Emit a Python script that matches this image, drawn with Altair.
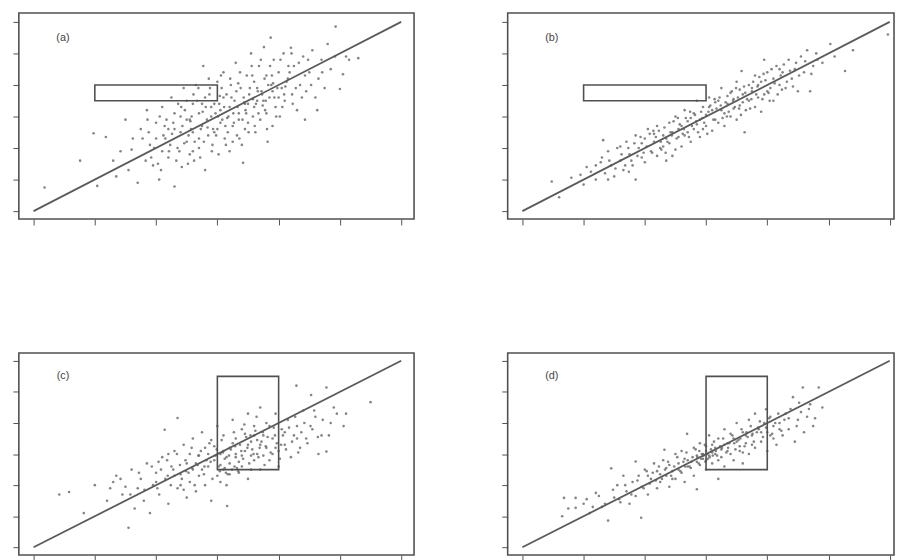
import altair as alt
import pandas as pd

TICKS = [0, 1, 2, 3, 4, 5, 6]
DIAG = [0, 6]
LABELS = ["(a)", "(b)", "(c)", "(d)"]
LABEL_POS = [0.48, 5.5]
RECT_WIDE = [1.0, 3.0, 3.5, 4.0]   # x, x2, y, y2
RECT_TALL = [3.0, 4.0, 2.5, 5.5]

A_X = [0.18, 0.76, 1.04, 0.98, 1.18, 1.35, 1.5, 1.3, 1.6, 1.55, 1.7, 1.75, 1.85, 1.9, 1.95, 2.0, 2.05, 2.1, 2.15, 2.2,
       2.25, 2.3, 2.3, 2.35, 2.4, 2.42, 2.45, 2.5, 2.5, 2.55, 2.6, 2.6, 2.62, 2.65, 2.7, 2.7, 2.75, 2.77, 2.8, 2.8,
       2.85, 2.88, 2.9, 2.92, 2.95, 3.0, 3.0, 3.02, 3.05, 3.08, 3.1, 3.12, 3.15, 3.18, 3.2, 3.22, 3.25, 3.28, 3.3, 3.32,
       3.35, 3.38, 3.4, 3.42, 3.45, 3.48, 3.5, 3.52, 3.55, 3.58, 3.6, 3.62, 3.65, 3.68, 3.7, 3.72, 3.76, 3.78, 3.8, 3.82,
       3.85, 3.87, 3.88, 3.9, 3.92, 3.95, 4.0, 4.02, 4.05, 4.08, 4.1, 4.15, 4.2, 4.22, 4.25, 4.3, 4.35, 4.4, 4.43, 4.45,
       4.5, 4.55, 4.6, 4.63, 4.65, 4.7, 4.75, 4.8, 4.85, 4.93, 5.0, 5.05, 5.1, 5.15, 5.3, 2.0, 2.2, 2.4, 2.55, 2.7,
       2.9, 3.05, 3.2, 3.35, 3.5, 3.65, 3.75, 3.9, 2.1, 2.3, 2.5, 2.6, 2.75, 2.95, 3.1, 3.25, 3.45, 3.6, 3.8, 4.0]
A_Y = [0.75, 1.6, 0.8, 2.47, 2.35, 1.1, 2.9, 1.6, 1.95, 1.3, 0.9, 2.6, 3.2, 2.1, 1.45, 2.8, 1.0, 3.3, 2.3, 1.7,
       3.6, 0.78, 2.6, 2.0, 3.0, 1.4, 3.9, 2.2, 2.9, 1.8, 3.4, 2.5, 1.6, 4.0, 3.1, 2.0, 2.7, 4.6, 3.6, 1.3,
       2.4, 3.9, 3.0, 2.1, 3.4, 2.6, 4.1, 1.8, 3.2, 2.9, 4.4, 2.3, 3.7, 3.0, 1.9, 4.0, 2.7, 3.5, 4.7, 2.4,
       3.1, 3.9, 2.1, 1.53, 3.4, 4.3, 2.8, 3.7, 5.0, 3.0, 4.1, 2.5, 3.5, 4.6, 2.9, 3.8, 5.2, 3.2, 4.3, 2.2,
       3.6, 5.5, 4.0, 2.7, 4.8, 3.3, 4.4, 3.0, 3.9, 5.0, 3.5, 4.2, 5.18, 3.7, 4.6, 3.2, 4.0, 4.9, 2.9, 3.8,
       4.4, 5.1, 3.6, 3.2, 4.2, 4.8, 3.9, 5.3, 4.5, 5.85, 3.87, 4.34, 4.9, 4.8, 4.85, 2.3, 2.6, 2.5, 2.9, 2.3,
       3.3, 2.8, 3.3, 2.9, 3.4, 3.9, 3.5, 3.8, 1.9, 3.1, 3.5, 1.9, 3.4, 2.5, 3.6, 2.2, 2.6, 3.3, 3.1, 3.6]
A_X_MORE = [1.83, 1.78, 1.86, 1.92, 1.88, 2.03, 1.97, 2.06, 2.12, 2.08,
            2.14, 2.23, 2.17, 2.21, 2.33, 2.28, 2.36, 2.43, 2.38, 2.41,
            2.53, 2.47, 2.52, 2.57, 2.63, 2.58, 2.61, 2.73, 2.67, 2.72,
            2.69, 2.83, 2.78, 2.81, 2.86, 2.93, 2.87, 2.91, 2.97, 3.03,
            2.98, 3.01, 3.06, 3.13, 3.07, 3.11, 3.14, 3.23, 3.17, 3.21,
            3.26, 3.33, 3.27, 3.31, 3.36, 3.43, 3.37, 3.41, 3.46, 3.53,
            3.47, 3.51, 3.56, 3.63, 3.57, 3.61, 3.66, 3.73, 3.67, 3.71,
            3.77, 3.83, 3.79, 3.81, 3.86, 3.93, 3.89, 3.96, 4.03, 3.98,
            4.06, 4.13, 4.09, 4.16, 4.23, 4.18, 4.21, 4.33, 4.28, 4.43,
            4.38, 4.53, 4.48, 4.71, 4.92, 1.62, 1.42, 2.26, 2.56, 2.84,
            3.16, 3.44, 3.74, 3.04, 2.76, 3.34, 3.58, 2.46, 3.91, 4.11]
A_Y_MORE = [1.6, 2.3, 2.9, 1.7, 2.5, 1.5, 2.0, 3.0, 2.4, 1.3,
            2.7, 2.1, 2.9, 1.9, 1.6, 2.8, 3.4, 2.7, 1.9, 3.3,
            2.4, 3.2, 1.5, 2.6, 2.2, 3.0, 3.7, 2.6, 3.5, 1.7,
            3.9, 2.9, 2.2, 3.3, 4.2, 2.6, 3.7, 1.9, 3.1, 3.4,
            2.4, 3.0, 4.3, 2.7, 3.9, 3.3, 2.1, 3.6, 2.5, 4.2,
            3.1, 3.3, 2.8, 3.8, 2.3, 3.6, 4.4, 2.9, 3.2, 3.9,
            3.1, 2.5, 4.6, 3.4, 4.3, 2.7, 3.8, 3.7, 3.1, 4.8,
            4.2, 4.0, 3.5, 2.6, 4.6, 3.6, 4.3, 3.0, 4.8, 3.9,
            3.3, 4.1, 3.7, 4.6, 3.4, 4.4, 5.0, 4.7, 3.9, 4.3,
            3.6, 4.0, 4.8, 4.4, 4.9, 2.3, 1.9, 2.45, 2.85, 2.65,
            2.95, 3.45, 3.35, 3.65, 3.15, 4.05, 3.55, 2.15, 4.05, 3.95]

B_X = [0.48, 0.6, 0.8, 1.0, 1.05, 1.2, 1.3, 1.32, 1.35, 1.4, 1.45, 1.5, 1.55, 1.6, 1.65, 1.7, 1.75, 1.8, 1.85, 1.85,
       1.9, 1.95, 2.0, 2.0, 2.05, 2.1, 2.15, 2.2, 2.2, 2.25, 2.3, 2.35, 2.4, 2.4, 2.45, 2.5, 2.5, 2.55, 2.6, 2.6,
       2.65, 2.7, 2.7, 2.75, 2.8, 2.8, 2.85, 2.9, 2.9, 2.95, 3.0, 3.0, 3.05, 3.1, 3.1, 3.15, 3.2, 3.2, 3.25, 3.3,
       3.3, 3.35, 3.4, 3.4, 3.45, 3.5, 3.5, 3.55, 3.58, 3.6, 3.63, 3.65, 3.7, 3.7, 3.75, 3.8, 3.8, 3.85, 3.9, 3.95,
       3.95, 4.0, 4.05, 4.1, 4.1, 4.15, 4.2, 4.25, 4.3, 4.35, 4.4, 4.45, 4.5, 4.55, 4.6, 4.65, 4.7, 4.75, 4.8, 4.9,
       5.03, 5.1, 5.27, 5.4, 5.97, 2.3, 2.55, 2.75, 2.95, 3.05, 3.25, 3.35, 3.45, 3.6, 3.75, 1.95, 2.15, 2.35, 2.65, 2.85,
       3.15, 3.55, 3.85, 4.0, 4.2, 1.6, 1.2, 1.4, 2.45, 3.9]
B_Y = [0.94, 0.44, 1.06, 0.84, 1.4, 1.0, 1.7, 2.25, 1.2, 1.9, 1.45, 1.1, 2.0, 1.6, 1.3, 2.2, 1.8, 1.45, 1.0, 2.4,
       2.0, 1.7, 2.3, 1.55, 2.6, 1.9, 2.2, 1.75, 2.7, 2.0, 2.4, 1.6, 2.8, 2.15, 2.5, 1.95, 3.0, 2.35, 2.7, 2.05,
       3.2, 2.5, 2.85, 2.2, 3.1, 2.6, 3.5, 2.35, 2.9, 3.3, 2.7, 3.05, 3.6, 2.55, 3.2, 2.9, 3.5, 2.8, 3.9, 3.1,
       2.7, 3.4, 3.75, 3.0, 3.55, 2.9, 4.1, 3.35, 4.44, 3.7, 2.5, 3.2, 4.0, 3.5, 3.8, 4.3, 3.3, 3.6, 4.1, 4.8,
       3.7, 4.4, 3.9, 4.2, 3.5, 4.6, 4.0, 4.4, 3.9, 4.8, 4.2, 4.5, 3.8, 4.9, 4.4, 5.1, 3.8, 4.6, 5.0, 4.7,
       5.3, 4.9, 4.44, 5.1, 5.6, 2.05, 2.6, 2.95, 2.6, 3.3, 3.2, 3.65, 3.25, 3.45, 3.9, 2.15, 2.45, 2.3, 2.4, 2.75,
       3.45, 3.85, 4.0, 3.8, 4.5, 2.05, 1.45, 1.0, 1.75, 3.15]
B_X_MORE = [1.62, 1.68, 1.73, 1.78, 1.83, 1.88, 1.93, 1.98, 2.03, 2.08,
            2.12, 2.18, 2.23, 2.27, 2.32, 2.37, 2.42, 2.47, 2.52, 2.57,
            2.62, 2.67, 2.72, 2.77, 2.82, 2.87, 2.92, 2.97, 3.02, 3.07,
            3.12, 3.17, 3.22, 3.27, 3.32, 3.37, 3.42, 3.47, 3.52, 3.57,
            3.62, 3.67, 3.72, 3.77, 3.82, 3.87, 3.92, 3.97, 4.02, 4.07,
            4.12, 4.17, 4.22, 4.27, 4.32, 4.37, 4.42, 4.47, 4.52, 4.62,
            4.72, 4.82, 1.42, 1.52, 1.28, 1.12, 0.95, 2.26, 2.64, 2.94,
            3.04, 3.24, 3.44, 3.64, 3.84, 2.44, 2.84, 3.34, 3.54, 3.74,
            2.14, 2.54, 2.74, 3.14, 3.49, 3.94, 4.04, 4.24, 1.74, 2.34]
B_Y_MORE = [1.8, 1.45, 2.0, 1.6, 2.15, 1.75, 2.35, 1.85, 2.05, 2.45,
            1.85, 2.35, 2.55, 1.95, 2.65, 2.2, 2.5, 2.85, 2.3, 2.75,
            2.45, 2.95, 2.35, 2.7, 3.05, 2.5, 3.15, 2.8, 2.45, 3.35,
            2.9, 3.25, 3.6, 2.95, 3.45, 3.15, 3.8, 3.3, 3.6, 3.05,
            3.95, 3.55, 3.25, 4.1, 3.7, 4.25, 3.55, 4.15, 3.75, 4.5,
            4.05, 3.7, 4.3, 4.65, 4.1, 4.45, 3.95, 4.7, 4.3, 4.75,
            4.35, 4.8, 1.6, 1.35, 1.55, 1.25, 1.15, 2.2, 2.6, 2.95,
            3.15, 3.35, 3.5, 3.75, 3.95, 2.4, 2.85, 3.0, 3.25, 3.55,
            2.55, 2.95, 3.15, 3.55, 3.9, 4.35, 3.5, 3.85, 1.25, 1.85]

C_X = [0.42, 0.58, 0.82, 1.0, 1.2, 1.3, 1.35, 1.45, 1.55, 1.6, 1.65, 1.7, 1.75, 1.8, 1.85, 1.9, 1.95, 2.0, 2.05, 2.1,
       2.14, 2.15, 2.2, 2.25, 2.3, 2.35, 2.35, 2.4, 2.45, 2.5, 2.5, 2.55, 2.6, 2.6, 2.65, 2.7, 2.7, 2.75, 2.8, 2.8,
       2.85, 2.9, 2.9, 2.95, 3.0, 3.0, 3.05, 3.1, 3.1, 3.15, 3.16, 3.2, 3.2, 3.25, 3.3, 3.3, 3.35, 3.4, 3.4, 3.45,
       3.5, 3.5, 3.55, 3.6, 3.6, 3.65, 3.7, 3.7, 3.75, 3.8, 3.8, 3.85, 3.9, 3.95, 4.0, 4.0, 4.05, 4.1, 4.15, 4.2,
       4.25, 4.29, 4.3, 4.35, 4.4, 4.45, 4.53, 4.55, 4.6, 4.65, 4.7, 4.78, 4.78, 4.85, 4.9, 5.06, 5.1, 5.5, 2.2, 2.4,
       2.55, 2.75, 2.95, 3.05, 3.25, 3.35, 3.45, 3.55, 3.65, 3.75, 3.85, 3.95, 3.1, 3.3, 3.5, 3.7, 1.5, 2.0, 2.3, 2.65,
       2.85, 3.15, 3.4, 3.6, 3.9, 4.1, 4.3, 2.45, 3.05, 3.55]
C_Y = [1.7, 1.78, 1.1, 2.0, 1.5, 2.1, 2.3, 1.7, 0.63, 2.5, 1.25, 1.9, 2.2, 1.5, 2.7, 1.1, 2.0, 2.4, 1.7, 2.9,
       3.78, 2.2, 1.4, 2.6, 3.1, 4.16, 1.9, 2.35, 3.3, 2.7, 1.6, 2.1, 3.5, 2.5, 1.8, 2.95, 2.3, 3.7, 2.0, 3.2,
       2.6, 1.5, 3.45, 2.8, 2.3, 3.9, 3.0, 2.5, 3.6, 2.0, 1.33, 3.2, 2.7, 4.1, 2.9, 3.5, 2.4, 3.8, 2.6, 3.1,
       4.3, 2.2, 3.4, 2.8, 3.9, 3.0, 4.5, 2.5, 3.6, 3.2, 4.0, 2.8, 3.5, 4.3, 3.1, 2.6, 3.8, 3.3, 4.1, 2.9,
       3.6, 5.2, 3.9, 3.2, 4.4, 3.5, 4.9, 3.8, 4.2, 3.0, 3.6, 5.14, 3.08, 4.0, 4.5, 3.9, 4.3, 4.67, 3.0, 2.0,
       3.0, 2.5, 3.25, 2.65, 3.35, 2.75, 3.65, 2.95, 3.45, 2.95, 3.9, 3.2, 3.1, 3.0, 3.3, 3.3, 1.95, 2.1, 2.3, 2.7,
       3.0, 2.9, 2.95, 3.6, 3.0, 3.7, 3.5, 1.85, 2.1, 2.5]
C_X_MORE = [1.25, 1.42, 1.58, 1.72, 1.81, 1.93, 2.02, 2.08, 2.18, 2.24,
            2.28, 2.34, 2.42, 2.48, 2.53, 2.58, 2.63, 2.68, 2.73, 2.78,
            2.82, 2.87, 2.92, 2.97, 3.02, 3.07, 3.12, 3.17, 3.22, 3.27,
            3.32, 3.37, 3.42, 3.47, 3.52, 3.57, 3.62, 3.67, 3.72, 3.77,
            3.82, 3.87, 3.92, 3.97, 4.02, 4.07, 4.12, 4.17, 4.22, 4.27,
            4.32, 4.37, 4.42, 4.47, 4.52, 4.58, 4.64, 4.72, 4.82, 4.95,
            3.04, 3.14, 3.24, 3.34, 3.2, 3.12, 3.28, 3.09, 3.19, 3.29,
            3.39, 3.49, 3.59, 3.69, 3.79, 2.59, 2.69, 2.79, 2.89, 2.99,
            2.49, 2.39, 2.19, 3.54, 3.74, 3.44, 3.64, 3.94, 4.04, 2.04]
C_Y_MORE = [1.9, 2.2, 1.7, 2.4, 1.85, 2.6, 1.9, 2.5, 2.8, 2.0,
            2.5, 3.0, 2.2, 2.8, 2.4, 3.2, 2.0, 2.65, 3.1, 2.35,
            2.8, 3.35, 2.2, 2.95, 2.6, 3.45, 2.85, 2.35, 3.15, 3.7,
            2.55, 3.3, 2.85, 3.55, 2.7, 3.15, 3.75, 2.9, 3.4, 2.65,
            3.55, 3.05, 3.85, 3.35, 2.85, 3.6, 3.15, 3.85, 3.4, 4.2,
            3.05, 3.7, 4.0, 3.35, 3.9, 4.4, 3.55, 4.1, 3.6, 4.3,
            2.45, 2.4, 2.5, 2.45, 2.35, 2.55, 2.6, 3.05, 2.95, 3.25,
            3.1, 3.2, 3.0, 3.2, 3.25, 2.55, 2.95, 2.6, 2.75, 3.15,
            2.45, 2.65, 2.3, 3.6, 3.7, 3.95, 4.2, 3.6, 3.3, 2.75]

D_X = [0.65, 0.68, 0.75, 0.87, 0.87, 1.0, 1.1, 1.2, 1.3, 1.4, 1.45, 1.5, 1.55, 1.6, 1.65, 1.7, 1.75, 1.8, 1.85, 1.85,
       1.9, 1.94, 1.95, 2.0, 2.05, 2.1, 2.15, 2.2, 2.2, 2.25, 2.3, 2.32, 2.35, 2.4, 2.4, 2.45, 2.5, 2.5, 2.55, 2.6,
       2.6, 2.65, 2.69, 2.7, 2.75, 2.8, 2.8, 2.85, 2.85, 2.9, 2.9, 2.95, 3.0, 3.0, 3.05, 3.05, 3.1, 3.1, 3.15, 3.2,
       3.2, 3.2, 3.25, 3.3, 3.3, 3.35, 3.4, 3.4, 3.45, 3.5, 3.5, 3.55, 3.6, 3.6, 3.65, 3.7, 3.7, 3.75, 3.8, 3.8,
       3.85, 3.9, 3.95, 3.98, 4.0, 4.0, 4.05, 4.1, 4.1, 4.15, 4.2, 4.25, 4.3, 4.35, 4.42, 4.45, 4.5, 4.58, 4.6, 4.65,
       4.7, 4.75, 4.84, 4.9, 3.0, 3.1, 3.25, 3.35, 3.45, 3.55, 3.65, 3.75, 2.95, 3.15, 2.7, 2.55, 2.35, 2.25, 2.05, 3.9,
       4.05, 3.6, 3.3, 3.0, 2.85, 2.65, 2.45, 4.35, 4.2]
D_Y = [1.0, 1.59, 1.25, 1.59, 1.27, 1.4, 1.1, 1.75, 1.3, 0.86, 2.54, 1.6, 2.0, 1.45, 2.3, 1.8, 1.4, 2.1, 2.76, 1.65,
       2.3, 0.95, 1.95, 2.5, 1.7, 2.2, 2.7, 1.9, 2.45, 2.1, 2.8, 3.14, 2.3, 1.95, 2.65, 2.45, 3.0, 2.2, 2.7, 2.4,
       3.1, 2.1, 3.65, 2.8, 2.55, 3.2, 2.3, 1.87, 2.95, 2.65, 3.35, 2.85, 3.1, 2.5, 3.6, 2.95, 2.7, 3.3, 3.0, 2.2,
       3.5, 2.8, 3.15, 3.8, 2.6, 3.35, 3.0, 3.65, 2.8, 3.4, 4.0, 3.1, 3.7, 2.7, 3.35, 4.1, 3.0, 3.6, 3.2, 4.3,
       3.85, 3.4, 4.0, 4.44, 3.1, 3.7, 4.2, 3.5, 3.9, 3.3, 4.0, 3.6, 4.3, 3.8, 4.83, 3.4, 4.1, 5.14, 3.7, 4.2,
       4.6, 3.9, 5.14, 4.5, 2.8, 3.05, 2.9, 3.1, 3.5, 3.25, 3.6, 3.3, 3.0, 3.2, 2.6, 2.5, 2.55, 2.35, 2.3, 3.7,
       3.6, 3.05, 3.3, 3.25, 2.75, 2.85, 2.2, 4.15, 3.8]
D_X_MORE = [1.05, 1.15, 1.25, 1.35, 1.48, 1.58, 1.68, 1.78, 1.88, 1.98,
            2.03, 2.08, 2.13, 2.18, 2.23, 2.28, 2.33, 2.38, 2.43, 2.48,
            2.53, 2.58, 2.63, 2.68, 2.73, 2.78, 2.83, 2.88, 2.93, 2.98,
            3.03, 3.08, 3.13, 3.18, 3.23, 3.28, 3.33, 3.38, 3.43, 3.48,
            3.53, 3.58, 3.63, 3.68, 3.73, 3.78, 3.83, 3.88, 3.93, 3.98,
            4.03, 4.08, 4.13, 4.18, 4.23, 4.28, 4.38, 4.48, 4.55, 4.68,
            4.78, 4.52, 2.96, 3.02, 3.06, 2.92, 2.99, 3.11, 2.89, 3.16,
            2.76, 2.86, 3.26, 3.36, 3.46, 3.56, 3.66, 3.76, 3.86, 2.66]
D_Y_MORE = [1.55, 1.3, 1.65, 1.4, 1.85, 1.55, 2.0, 1.7, 2.15, 1.9,
            2.45, 2.05, 2.4, 2.15, 2.6, 2.2, 2.5, 2.75, 2.3, 2.6,
            2.9, 2.45, 2.75, 3.05, 2.6, 2.9, 3.15, 2.7, 3.0, 3.3,
            2.85, 3.15, 3.4, 2.95, 3.25, 3.5, 3.05, 3.35, 3.6, 3.15,
            3.45, 3.8, 3.25, 3.55, 3.9, 3.4, 3.7, 4.05, 3.55, 3.85,
            4.15, 3.65, 4.0, 4.3, 3.75, 4.1, 4.45, 3.9, 4.35, 4.45,
            4.15, 4.65, 2.95, 3.0, 2.9, 2.85, 2.75, 2.95, 3.1, 3.1,
            2.75, 2.9, 3.2, 3.2, 3.35, 3.5, 3.7, 3.65, 3.8, 2.6]

INK = "#505050"
DOT = "#666666"


def panel(xs, ys, rect, label, xdom, ydom, w, h):
    xsc = alt.Scale(domain=xdom, nice=False, zero=False)
    ysc = alt.Scale(domain=ydom, nice=False, zero=False)
    ax = dict(values=TICKS, labels=False, title=None, grid=False, domain=False,
              ticks=True, tickSize=6, tickColor=INK, tickWidth=1)
    X = lambda f: alt.X(f, type="quantitative", scale=xsc, axis=alt.Axis(**ax))
    Y = lambda f: alt.Y(f, type="quantitative", scale=ysc, axis=alt.Axis(**ax))

    pts = alt.Chart(pd.DataFrame({"x": xs, "y": ys})).mark_circle(
        size=7, color=DOT, opacity=0.8).encode(x=X("x"), y=Y("y"))
    line = alt.Chart(pd.DataFrame({"x": DIAG, "y": DIAG})).mark_line(
        color="#5a5a5a", strokeWidth=1.8).encode(x=X("x"), y=Y("y"))
    box = alt.Chart(pd.DataFrame({"x": [rect[0]], "x2": [rect[1]], "y": [rect[2]], "y2": [rect[3]]})).mark_rect(
        fillOpacity=0, stroke=INK, strokeWidth=1.6).encode(x=X("x"), x2="x2", y=Y("y"), y2="y2")
    txt = alt.Chart(pd.DataFrame({"x": [LABEL_POS[0]], "y": [LABEL_POS[1]], "t": [label]})).mark_text(
        fontSize=11, color="#444444", font="Liberation Sans").encode(x=X("x"), y=Y("y"), text="t:N")
    return alt.layer(pts, line, box, txt).properties(width=w, height=h)


pa = panel(A_X + A_X_MORE, A_Y + A_Y_MORE, RECT_WIDE, LABELS[0], [-0.24, 6.21], [-0.25, 6.28], 401, 209)
pb = panel(B_X + B_X_MORE, B_Y + B_Y_MORE, RECT_WIDE, LABELS[1], [-0.24, 6.07], [-0.25, 6.28], 392, 209)
pc = panel(C_X + C_X_MORE, C_Y + C_Y_MORE, RECT_TALL, LABELS[2], [-0.24, 6.21], [-0.25, 6.25], 401, 205)
pd_ = panel(D_X + D_X_MORE, D_Y + D_Y_MORE, RECT_TALL, LABELS[3], [-0.24, 6.07], [-0.25, 6.25], 392, 205)

chart = alt.vconcat(
    alt.hconcat(pa, pb, spacing=86),
    alt.hconcat(pc, pd_, spacing=86),
    spacing=127,
).properties(
    padding={"left": 3, "top": 0, "right": 0, "bottom": 0},
    background="white",
).configure_view(stroke=INK, strokeWidth=1.6)

chart.save("out.html", embed_options={"renderer": "svg", "actions": False})
